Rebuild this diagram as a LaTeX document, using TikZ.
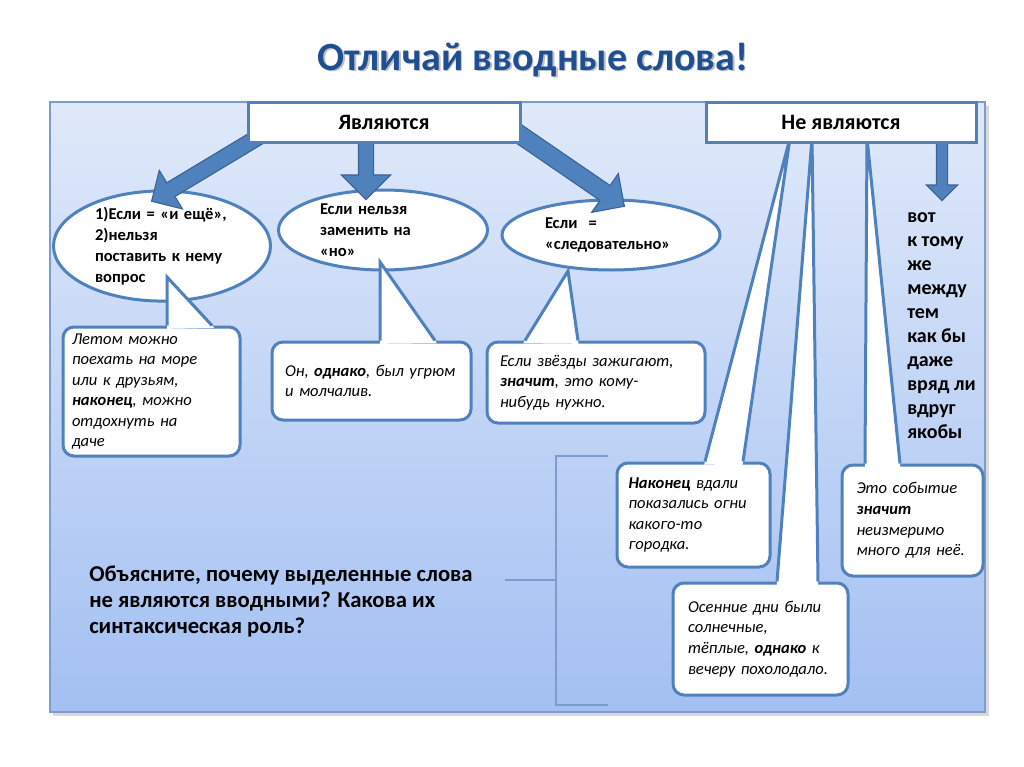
\documentclass[tikz,border=0pt]{standalone}
\usepackage{fontspec}
\setmainfont{Carlito}
\usetikzlibrary{arrows.meta}
\usetikzlibrary{positioning}
\usetikzlibrary{shapes.geometric}
\usetikzlibrary{shapes.arrows}
\usetikzlibrary{calc}
\definecolor{titleblue}{HTML}{1F4E91}
\definecolor{edgeblue}{HTML}{4F81BD}
\definecolor{arrowfill}{HTML}{4F81BD}
\definecolor{arrowedge}{HTML}{3A6296}
\definecolor{paneltop}{HTML}{E0E9FA}
\definecolor{panelbot}{HTML}{A3C0F2}
\definecolor{panelline}{HTML}{7D9BCB}
\newlength\pxu
\setlength\pxu{0.75pt}

% block arrow from #1 to #2, shaft width #3, head width #4 (px)
\newcommand\blockarrow[4]{%
  \path let \p1=($(#2)-(#1)$), \n1={atan2(\y1,\x1)}, \n2={veclen(\x1,\y1)} in
    node[bigarrow, rotate=\n1, anchor=tail, minimum height=\n2,
      inner ysep=#3*0.375pt, single arrow head extend=#4*0.375pt-#3*0.375pt]
      at (#1) {};}
% callout pointer: base #1, tip #2, base #3
\newcommand\calltail[3]{%
  \fill[white] ($(#1)!-2.5pt!(#2)$) -- (#2) -- ($(#3)!-2.5pt!(#2)$) -- cycle;
  \draw[tailline] (#1) -- (#2) -- (#3);}

\begin{document}
\begin{tikzpicture}[
    x=0.75pt, y=-0.75pt,
    hdrbox/.style={draw=edgeblue, line width=2.25pt, fill=white,
      minimum width=272\pxu, minimum height=40\pxu, inner sep=0pt,
      font=\fontsize{16.5}{19}\selectfont\bfseries},
    oval/.style={ellipse, draw=edgeblue, line width=2.25pt, fill=white,
      inner sep=0pt, align=left,
      font=\fontsize{12.4}{15.75}\selectfont\bfseries},
    note/.style={draw=edgeblue, line width=2.25pt, fill=white,
      rounded corners=11\pxu, inner sep=0pt, align=left,
      font=\fontsize{12.4}{15.4}\selectfont\itshape},
    tailline/.style={draw=edgeblue, line width=2.25pt, line join=miter},
    bigarrow/.style={single arrow, draw=arrowedge, fill=arrowfill,
      line width=0.8pt, inner xsep=0pt, single arrow tip angle=90},
    bracket/.style={draw=panelline, line width=0.9pt},
    wordlist/.style={anchor=north west, inner sep=0pt, align=left,
      font=\fontsize{15}{18}\selectfont\bfseries},
    question/.style={anchor=north west, inner sep=0pt, align=left,
      font=\fontsize{17}{19.5}\selectfont\bfseries},
  ]
  \useasboundingbox (0,0) rectangle (1024,767);
  \fill[white] (0,0) rectangle (1024,767);

  % === title ===
  \node[font=\fontsize{30}{36}\selectfont\bfseries, text=black!25]
    (titleshadow) at (534.5,61.5) {Отличай вводные слова!};
  \node[font=\fontsize{30}{36}\selectfont\bfseries, text=titleblue]
    (title) at (533,60) {Отличай вводные слова!};

  % === panel ===
  \fill[black!15] (53,106) rectangle (989,716);
  \shade[top color=paneltop, bottom color=panelbot] (50,102) rectangle (985,712);
  \draw[panelline, line width=1pt] (50,102) rectangle (985,712);

  % === bracket for the question ===
  \draw[bracket] (608,456) -- (556,456) -- (556,705) -- (608,705);
  \draw[bracket] (556,580) -- (505,580);

  % === rules ===
  \node[oval, minimum width=217\pxu, minimum height=100\pxu, text width=134\pxu]
    (e1) at (162,246) {1)Если = «и ещё»,\\ 2)нельзя\\ поставить к нему\\ вопрос};
  \node[oval, minimum width=209\pxu, minimum height=80\pxu, text width=126\pxu]
    (e2) at (383,230) {Если нельзя\\ заменить на\\ «но»};
  \node[oval, minimum width=218\pxu, minimum height=70\pxu, text width=132\pxu]
    (e3) at (611,235) {Если\ \ =\\ «следовательно»};

  % === example boxes ===
  \node[note, minimum width=177\pxu, minimum height=129\pxu, text width=159\pxu]
    (c1) at (151.5,391.5) {Летом можно\\ поехать на море\\ или к друзьям,\\
      \textbf{наконец}, можно\\ отдохнуть на\\ даче};
  \node[note, minimum width=199\pxu, minimum height=78\pxu, text width=173\pxu]
    (c2) at (371.5,381) {Он, \textbf{однако}, был угрюм\\ и молчалив.};
  \node[note, minimum width=218\pxu, minimum height=81\pxu, text width=192\pxu]
    (c3) at (596,382.5) {Если звёзды зажигают,\\ \textbf{значит}, это кому-\\
      нибудь нужно.};
  \node[note, minimum width=153\pxu, minimum height=104\pxu, text width=130\pxu]
    (c4) at (693.5,515) {\textbf{Наконец} вдали\\ показались огни\\
      какого-то\\ городка.};
  \node[note, minimum width=175\pxu, minimum height=112\pxu, text width=145\pxu]
    (c5) at (760.5,639) {Осенние дни были\\ солнечные,\\
      тёплые, \textbf{однако} к\\ вечеру похолодало.};
  \node[note, minimum width=141\pxu, minimum height=111\pxu, text width=112\pxu]
    (c6) at (912.5,520.5) {Это событие\\ \textbf{значит}\\ неизмеримо\\
      много для неё.};

  % === pointers of the example boxes ===
  \coordinate (t1) at (167,277);
  \coordinate (t2) at (380,262);
  \coordinate (t3) at (568,271);
  \coordinate (t4) at (790,138);
  \coordinate (t5) at (812,138);
  \coordinate (t6) at (867,138);
  \calltail{167,0 |- c1.north}{t1}{212,0 |- c1.north}
  \calltail{380,0 |- c2.north}{t2}{435,0 |- c2.north}
  \calltail{525,0 |- c3.north}{t3}{578,0 |- c3.north}
  \calltail{705,0 |- c4.north}{t4}{743,0 |- c4.north}
  \calltail{777,0 |- c5.north}{t5}{818,0 |- c5.north}
  \calltail{865,0 |- c6.north}{t6}{900,0 |- c6.north}

  % === block arrows (under the header boxes) ===
  \coordinate (a1s) at (280,124);  \coordinate (a1e) at (152,201);
  \coordinate (a2s) at (366,130);  \coordinate (a2e) at (366,199);
  \coordinate (a3s) at (500,121);  \coordinate (a3e) at (624,206);
  \coordinate (a4s) at (942,135);  \coordinate (a4e) at (942,200);
  \blockarrow{a1s}{a1e}{15}{44}
  \blockarrow{a2s}{a2e}{14}{48}
  \blockarrow{a3s}{a3e}{17}{46}
  \blockarrow{a4s}{a4e}{10}{30}

  % === headers ===
  \node[hdrbox] (yes) at (384,122) {Являются};
  \node[hdrbox, minimum width=270\pxu] (no) at (841,122) {Не являются};

  % === word list and question ===
  \node[wordlist] (words) at (907,212) {вот\\ к тому\\ же\\ между\\ тем\\
    как бы\\ даже\\ вряд ли\\ вдруг\\ якобы};
  \node[question] (ask) at (89,566) {Объясните, почему выделенные слова\\
    не являются вводными? Какова их\\ синтаксическая роль?};
\end{tikzpicture}
\end{document}
